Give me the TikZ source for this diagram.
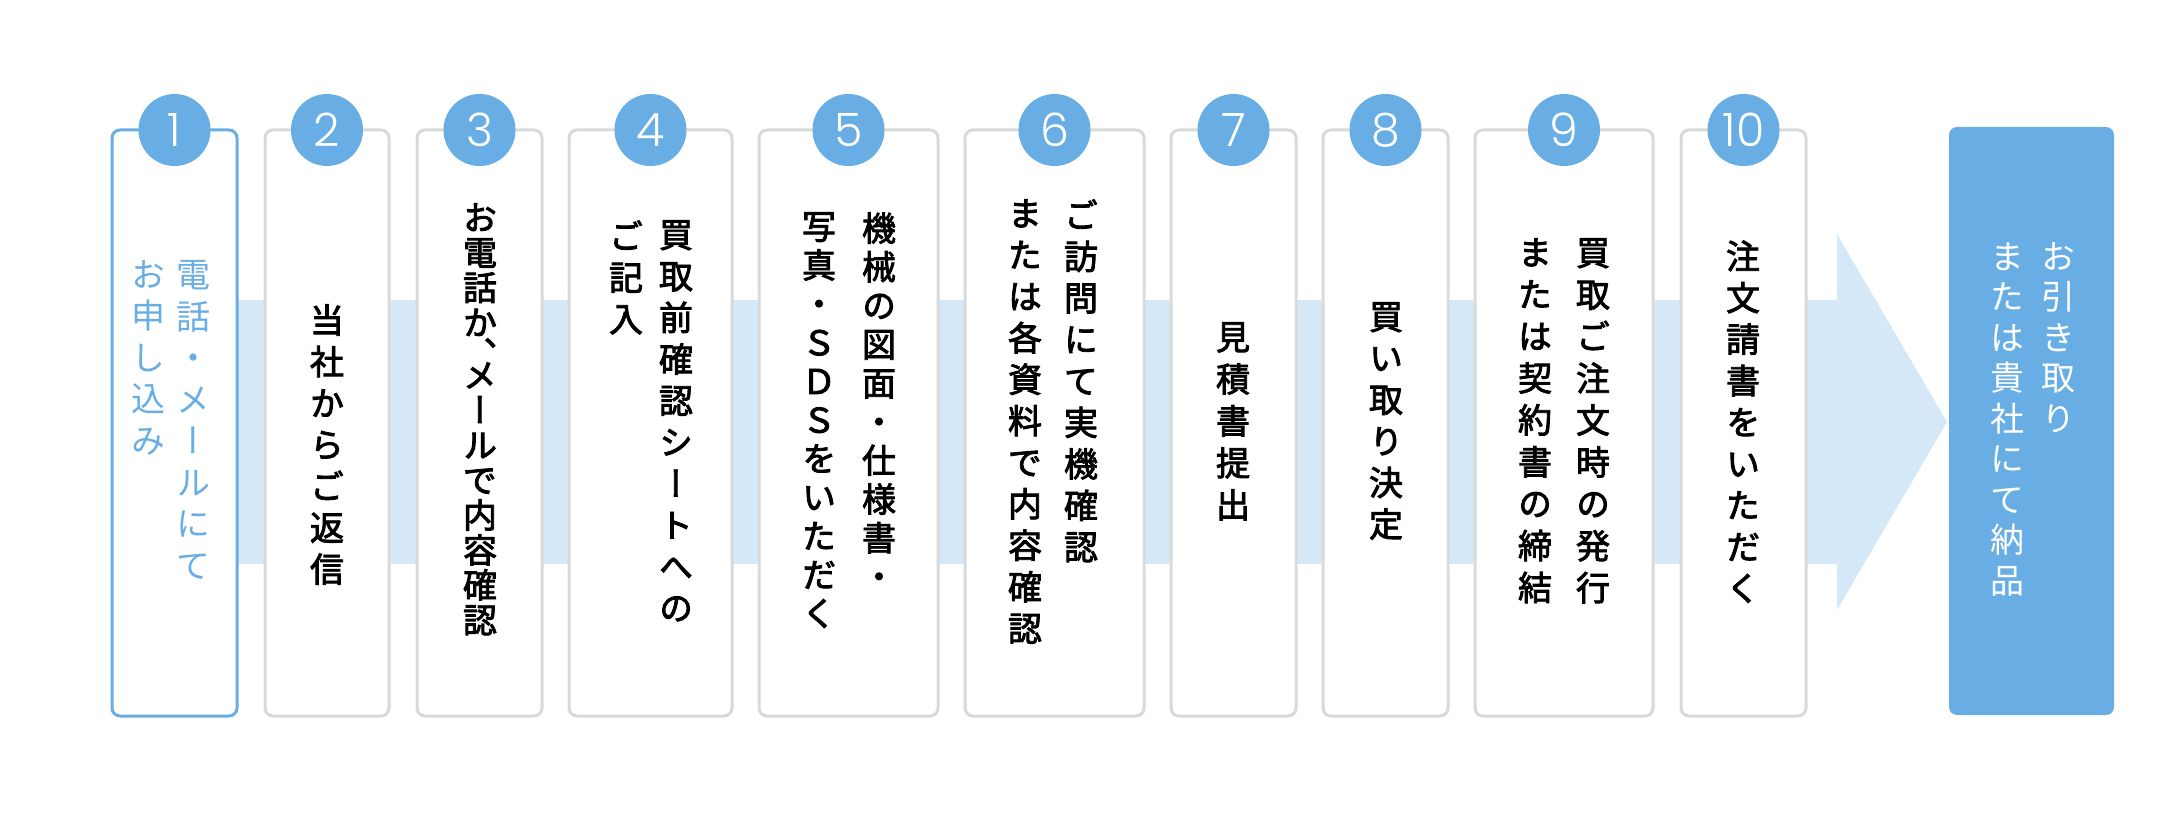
\documentclass[tikz,border=0pt]{standalone}
\usepackage{fontspec}
\newfontfamily\jpfont[RawFeature=+vert]{Noto Sans CJK JP}
\newfontfamily\jpmid[RawFeature=+vert, FakeBold=2.5]{Noto Sans CJK JP}
\newfontfamily\numfont[UprightFont={* Light}]{Poppins}
\definecolor{stepblue}{HTML}{68AEE4}
\definecolor{bandblue}{HTML}{D5E8F7}
\definecolor{framegray}{HTML}{D9D9D9}
\newcommand\jpsize[1]{\fontsize{17}{#1}\selectfont\lineskiplimit=-20pt}
\tikzset{
  stepframe/.style={draw=framegray, line width=1.5pt, fill=white, rounded corners=4pt},
  stepnum/.style={circle, fill=stepblue, minimum size=36pt, inner sep=0pt,
    text=white, font=\numfont\fontsize{23}{23}\selectfont},
  vtext/.style={anchor=north, inner sep=0pt, align=center, font=\jpmid\jpsize{#1}},
  vtext/.default=20.75pt,
  vlight/.style={anchor=north, inner sep=0pt, align=center, font=\jpfont\jpsize{#1}},
  vlight/.default=20.75pt,
}
\begin{document}
\begin{tikzpicture}[x=0.5pt, y=-0.5pt]
  \useasboundingbox (0,0) rectangle (2176,813);
  % band and arrow head
  \fill[bandblue] (200,300) rectangle (1837,564);
  \fill[bandblue] (1837,234) -- (1947,422) -- (1837,610) -- cycle;
  % step boxes
  \draw[stepframe, draw=stepblue] (112,130) rectangle (237,716);
  \node[stepnum] (c1) at (174.5,130) {1};
  \foreach \l/\r/\n in {265/389/2, 417/542/3, 569/732/4, 759/938/5, 965/1144/6,
      1171/1296/7, 1323/1448/8, 1475/1653/9, 1681/1806/10} {
    \draw[stepframe] (\l,130) rectangle (\r,716);
    \node[stepnum] (c\n) at ({(\l+\r)/2},130) {\n};
  }
  \fill[stepblue, rounded corners=4pt] (1949,127) rectangle (2114,715);
  % texts, right column first
  \node[vlight, text=stepblue] (t1a) at (193,260) {電\\話\\・\\メ\\ー\\ル\\に\\て};
  \node[vlight, text=stepblue] (t1b) at (148,260) {お\\申\\し\\込\\み};
  \node[vtext] (t2) at (327,304) {当\\社\\か\\ら\\ご\\返\\信};
  \node[vtext=17.5pt] (t3) at (480,203)
    {お\\電\\話\\か\\[-2pt]、\\[-6.75pt]メ\\ー\\ル\\で\\内\\容\\確\\認};
  \node[vtext] (t4a) at (676,220) {買\\取\\前\\確\\認\\シ\\ー\\ト\\へ\\の};
  \node[vtext] (t4b) at (626,220) {ご\\記\\入};
  \node[vtext=19.35pt] (t5a) at (879,212) {機\\械\\の\\図\\面\\・\\仕\\様\\書\\・};
  \node[vtext=19.35pt] (t5b) at (819,212) {写\\真\\・\\Ｓ\\Ｄ\\Ｓ\\を\\い\\た\\だ\\く};
  \node[vtext] (t6a) at (1081,199) {ご\\訪\\問\\に\\て\\実\\機\\確\\認};
  \node[vtext] (t6b) at (1025,199) {ま\\た\\は\\各\\資\\料\\で\\内\\容\\確\\認};
  \node[vtext=21pt] (t7) at (1233,322) {見\\積\\書\\提\\出};
  \node[vtext] (t8) at (1386,302) {買\\い\\取\\り\\決\\定};
  \node[vtext=20.95pt] (t9a) at (1593,238) {買\\取\\ご\\注\\文\\時\\の\\発\\行};
  \node[vtext=20.95pt] (t9b) at (1535,238) {ま\\た\\は\\契\\約\\書\\の\\締\\結};
  \node[vtext] (t10) at (1743,240) {注\\文\\請\\書\\を\\い\\た\\だ\\く};
  \node[vlight=20.25pt, text=white] (tea) at (2058,242) {お\\引\\き\\取\\り};
  \node[vlight=20.25pt, text=white] (teb) at (2007,242) {ま\\た\\は\\貴\\社\\に\\て\\納\\品};
\end{tikzpicture}
\end{document}
